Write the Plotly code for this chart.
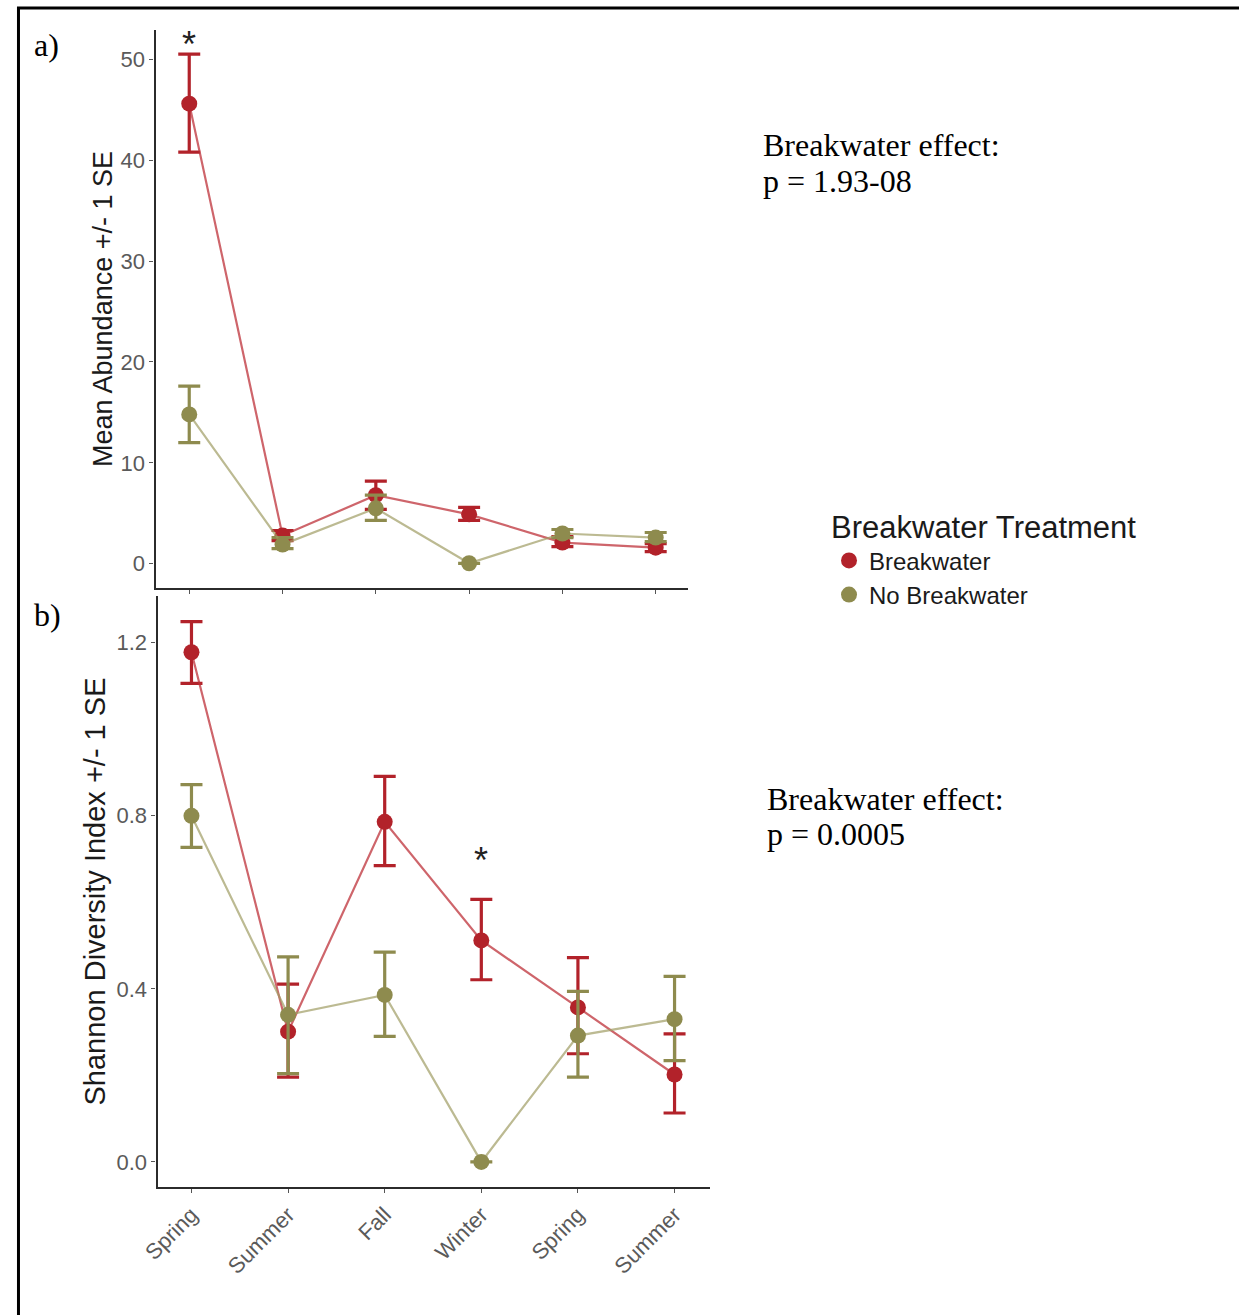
import plotly.graph_objects as go

seasons = ["Spring", "Summer", "Fall", "Winter", "Spring", "Summer"]
xpos = list(range(len(seasons)))

# Panel a) Mean abundance (+/- 1 SE bounds)
abund_bw = [45.6, 2.8, 6.8, 4.9, 2.1, 1.6]
abund_bw_hi = [50.5, 3.3, 8.2, 5.6, 2.7, 2.0]
abund_bw_lo = [40.8, 2.3, 5.4, 4.3, 1.7, 1.2]
abund_nb = [14.8, 1.9, 5.5, 0.05, 3.0, 2.6]
abund_nb_hi = [17.6, 2.6, 6.8, 0.05, 3.4, 3.1]
abund_nb_lo = [12.0, 1.5, 4.3, 0.05, 2.6, 2.2]

# Panel b) Shannon diversity (+/- 1 SE bounds)
shan_bw = [1.178, 0.301, 0.786, 0.512, 0.357, 0.202]
shan_bw_hi = [1.249, 0.411, 0.891, 0.607, 0.472, 0.296]
shan_bw_lo = [1.106, 0.196, 0.685, 0.421, 0.250, 0.113]
shan_nb = [0.800, 0.340, 0.386, 0.0, 0.292, 0.330]
shan_nb_hi = [0.872, 0.474, 0.485, 0.0, 0.394, 0.429]
shan_nb_lo = [0.727, 0.204, 0.290, 0.0, 0.196, 0.234]

groups = ["Breakwater", "No Breakwater"]

RED = "#B2222A"
RED_LINE = "rgba(190,50,58,0.75)"
OLIVE = "#8E8B4E"
OLIVE_LINE = "rgba(160,156,100,0.7)"

W, H = 1239, 1315
def px(x):
    # horizontal placement, corrected for the observed capture offset
    return max(0.0, (x - 14) / 0.9887) / W
def py(y):
    return 1 - y / H

fig = go.Figure()

def add_series(x, m, hi, lo, color, lcolor, name, xa, ya):
    fig.add_trace(go.Scatter(
        x=x, y=m, mode="lines+markers", name=name,
        legendgroup=name, showlegend=False,
        xaxis=xa, yaxis=ya,
        line=dict(color=lcolor, width=2.2),
        marker=dict(color=color, size=16, line=dict(width=0)),
        error_y=dict(type="data", symmetric=False,
                     array=[h - v for h, v in zip(hi, m)],
                     arrayminus=[v - l for v, l in zip(m, lo)],
                     color=color, thickness=3.2, width=11),
    ))

add_series(xpos, abund_bw, abund_bw_hi, abund_bw_lo, RED, RED_LINE, groups[0], "x", "y")
add_series(xpos, abund_nb, abund_nb_hi, abund_nb_lo, OLIVE, OLIVE_LINE, groups[1], "x", "y")
add_series(xpos, shan_bw, shan_bw_hi, shan_bw_lo, RED, RED_LINE, groups[0], "x2", "y2")
add_series(xpos, shan_nb, shan_nb_hi, shan_nb_lo, OLIVE, OLIVE_LINE, groups[1], "x2", "y2")

# legend keys (points only, as in the reference)
for name, color in zip(groups, [RED, OLIVE]):
    fig.add_trace(go.Scatter(x=[None], y=[None], mode="markers", name=name,
                             legendgroup=name, showlegend=True,
                             marker=dict(color=color, size=18)))

tickfont = dict(family="Arial, Liberation Sans, sans-serif", size=22, color="#5a5a5a")
titlefont = dict(family="Arial, Liberation Sans, sans-serif", size=27, color="#1a1a1a")
titlefont2 = dict(family="Arial, Liberation Sans, sans-serif", size=29, color="#1a1a1a")
serif = "Times New Roman, Liberation Serif, serif"

axis_common = dict(showgrid=False, zeroline=False, showline=True, linecolor="#2b2b2b",
                   linewidth=2.4, ticks="outside", ticklen=4, tickcolor="#555555",
                   tickwidth=1, tickfont=tickfont)

fig.update_layout(
    width=W, height=H, margin=dict(l=0, r=0, t=0, b=0),
    paper_bgcolor="white", plot_bgcolor="white",
    xaxis=dict(domain=[px(153), px(687)], anchor="y", range=[-0.36, 5.35],
               tickvals=xpos, showticklabels=False, **axis_common),
    yaxis=dict(domain=[py(588), py(30)], anchor="x", range=[-2.4, 52.9],
               tickvals=[0, 10, 20, 30, 40, 50],
               title=dict(text="Mean Abundance +/- 1 SE", font=titlefont, standoff=0),
               **axis_common),
    xaxis2=dict(domain=[px(155), px(709)], anchor="y2", range=[-0.35, 5.37],
                tickvals=xpos, ticktext=seasons, tickangle=-45, **axis_common),
    yaxis2=dict(domain=[py(1187), py(596)], anchor="x2", range=[-0.058, 1.308],
                tickvals=[0.0, 0.4, 0.8, 1.2], tickformat=".1f",
                title=dict(text="Shannon Diversity Index +/- 1 SE", font=titlefont2, standoff=2),
                **axis_common),
    legend=dict(x=px(828), y=py(498), xanchor="left", yanchor="top",
                title=dict(text="Breakwater Treatment",
                           font=dict(family="Arial, Liberation Sans, sans-serif", size=31, color="#1a1a1a")),
                font=dict(family="Arial, Liberation Sans, sans-serif", size=24, color="#1a1a1a"),
                tracegroupgap=0, itemwidth=30, bgcolor="rgba(0,0,0,0)"),
    showlegend=True,
)

annots = [
    dict(text="a)", x=px(29), y=py(45), font=dict(family=serif, size=32, color="black"), xanchor="left"),
    dict(text="b)", x=px(29), y=py(615), font=dict(family=serif, size=32, color="black"), xanchor="left"),
    dict(text="*", x=px(186), y=py(44), font=dict(family="Arial", size=36, color="#222"), xanchor="center"),
    dict(text="*", x=px(479), y=py(860), font=dict(family="Arial", size=36, color="#222"), xanchor="center"),
    dict(text="Breakwater effect:", x=px(760), y=py(145), font=dict(family=serif, size=32, color="black"), xanchor="left"),
    dict(text="p = 1.93-08", x=px(760), y=py(181), font=dict(family=serif, size=32, color="black"), xanchor="left"),
    dict(text="Breakwater effect:", x=px(764), y=py(799), font=dict(family=serif, size=32, color="black"), xanchor="left"),
    dict(text="p = 0.0005", x=px(764), y=py(834), font=dict(family=serif, size=32, color="black"), xanchor="left"),
]
for a in annots:
    fig.add_annotation(xref="paper", yref="paper", showarrow=False, yanchor="middle", **a)

# outer frame (left and top edges visible in the reference)
fig.add_shape(type="line", xref="paper", yref="paper", x0=1.5 / W, x1=1.5 / W, y0=0, y1=py(7),
              line=dict(color="black", width=3))
fig.add_shape(type="line", xref="paper", yref="paper", x0=0, x1=1, y0=py(8), y1=py(8),
              line=dict(color="black", width=3))

fig.write_html("out.html", config={"displayModeBar": False},
               post_script="document.body.style.margin='0';document.body.style.overflow='hidden';")
